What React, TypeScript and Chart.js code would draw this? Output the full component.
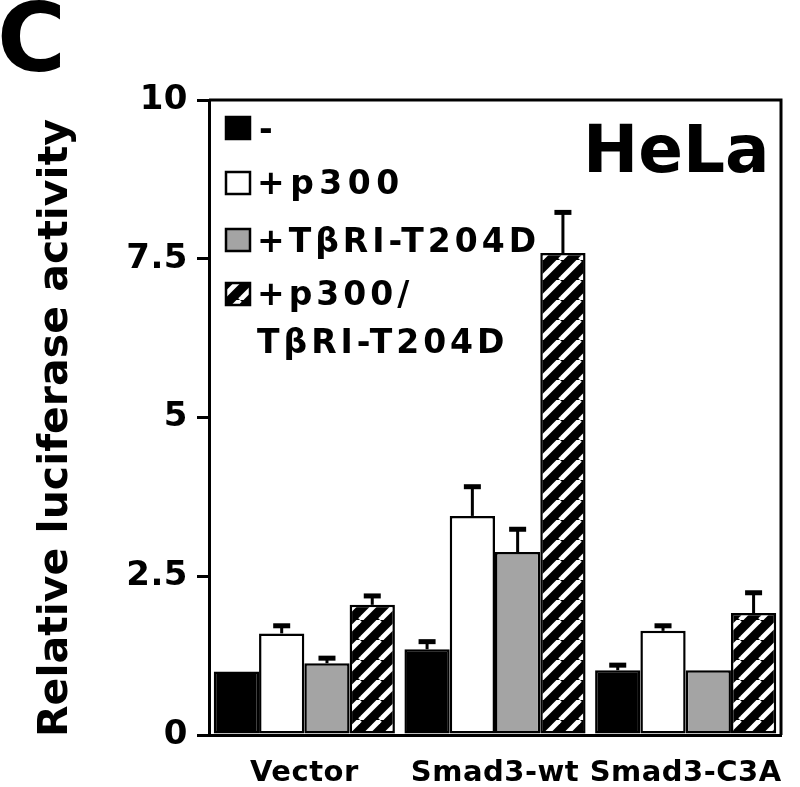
import React, { useEffect, useRef } from "react";
import { Chart, registerables } from "chart.js";
Chart.register(...registerables);

const categories = ["Vector", "Smad3-wt", "Smad3-C3A"];
const seriesLabels = ["-", "+p300", "+TβRI-T204D", "+p300/", "TβRI-T204D"];
const controlValues = [1.0, 1.35, 1.02];
const controlErrors = [0, 0.12, 0.08];
const p300Values = [1.6, 3.45, 1.64];
const p300Errors = [0.12, 0.46, 0.08];
const tbriValues = [1.13, 2.88, 1.02];
const tbriErrors = [0.08, 0.36, 0];
const comboValues = [2.05, 7.59, 1.92];
const comboErrors = [0.14, 0.64, 0.32];
const yTickValues = [0, 2.5, 5, 7.5, 10];
const yAxisTitle = "Relative luciferase activity";
const cellLine = "HeLa";
const panelLetter = "C";

const FAMILY = "'DejaVu Sans', 'Liberation Sans', Arial, sans-serif";
const GRAY = "#a4a4a4";

function makeHatch(): CanvasPattern | string {
  const c = document.createElement("canvas");
  c.width = 20;
  c.height = 20;
  const g = c.getContext("2d");
  if (!g) return "#000";
  g.fillStyle = "#000";
  g.fillRect(0, 0, 20, 20);
  g.strokeStyle = "#fff";
  g.lineWidth = 5;
  for (const o of [-20, 0, 20]) {
    g.beginPath();
    g.moveTo(o, 20);
    g.lineTo(o + 20, 0);
    g.stroke();
  }
  return g.createPattern(c, "repeat") || "#000";
}

function spacedText(ctx: any, text: string, x: number, y: number, font: string, spacing: number) {
  ctx.save();
  ctx.font = font;
  ctx.letterSpacing = spacing + "px";
  ctx.fillStyle = "#000";
  ctx.textAlign = "left";
  ctx.textBaseline = "alphabetic";
  ctx.fillText(text, x, y);
  ctx.restore();
}

export default function App() {
  const ref = useRef<HTMLCanvasElement>(null);
  useEffect(() => {
    document.body.style.margin = "0";
    const hatch = makeHatch();
    const valueSets = [controlValues, p300Values, tbriValues, comboValues];
    const errorSets = [controlErrors, p300Errors, tbriErrors, comboErrors];
    const fills: any[] = ["#000", "#fff", GRAY, hatch];

    const spacingPlugin = {
      id: "spacing",
      beforeUpdate(chart: any) {
        chart.ctx.letterSpacing = "0.5px";
      },
      beforeDraw(chart: any) {
        chart.ctx.letterSpacing = "0.5px";
      },
    };

    const errorPlugin = {
      id: "errbars",
      afterDatasetsDraw(chart: any) {
        const ctx = chart.ctx;
        const y = chart.scales.y;
        ctx.save();
        ctx.fillStyle = "#000";
        errorSets.forEach((errs, di) => {
          const meta = chart.getDatasetMeta(di);
          meta.data.forEach((bar: any, i: number) => {
            const e = errs[i];
            if (!e) return;
            const v = valueSets[di][i];
            const yTop = y.getPixelForValue(v + e);
            const yBar = y.getPixelForValue(v);
            ctx.fillRect(bar.x - 1.5, yTop, 3, yBar - yTop);
            ctx.fillRect(bar.x - 8.5, yTop - 2.5, 17, 5);
          });
        });
        ctx.restore();
      },
    };

    const decorPlugin = {
      id: "decor",
      afterDraw(chart: any) {
        const ctx = chart.ctx;
        const a = chart.chartArea;
        ctx.save();
        ctx.letterSpacing = "0px";
        // frame top & right
        ctx.strokeStyle = "#000";
        ctx.lineWidth = 3;
        ctx.beginPath();
        ctx.moveTo(a.left, a.top);
        ctx.lineTo(a.right, a.top);
        ctx.lineTo(a.right, a.bottom);
        ctx.stroke();

        // y axis title
        ctx.save();
        ctx.translate(67, 428);
        ctx.rotate(-Math.PI / 2);
        ctx.font = `bold 41px ${FAMILY}`;
        ctx.fillStyle = "#000";
        ctx.textAlign = "center";
        ctx.textBaseline = "alphabetic";
        ctx.fillText(yAxisTitle, 0, 0);
        ctx.restore();

        // panel letter
        spacedText(ctx, panelLetter, -3, 71, `bold 94px ${FAMILY}`, 0);
        // cell line
        spacedText(ctx, cellLine, 583, 172, `bold 66px ${FAMILY}`, 0);

        // legend
        const lx = a.left + 17;
        const tops = [17, 72, 129, 183];
        tops.forEach((t, i) => {
          ctx.fillStyle = fills[i];
          ctx.fillRect(lx, a.top + t, 24, 22);
          ctx.lineWidth = 2.5;
          ctx.strokeStyle = "#000";
          ctx.strokeRect(lx, a.top + t, 24, 22);
        });
        const lf = `bold 33px ${FAMILY}`;
        const tx = a.left + 48;
        spacedText(ctx, seriesLabels[0], tx + 2, a.top + 40, lf, 0);
        spacedText(ctx, seriesLabels[1], tx, a.top + 94, lf, 5.5);
        spacedText(ctx, seriesLabels[2], tx, a.top + 152, lf, 4);
        spacedText(ctx, seriesLabels[3], tx, a.top + 205, lf, 4);
        spacedText(ctx, seriesLabels[4], tx, a.top + 253, lf, 4);
        ctx.restore();
      },
    };

    const chart = new Chart(ref.current as HTMLCanvasElement, {
      type: "bar",
      data: {
        labels: categories,
        datasets: valueSets.map((vals, i) => ({
          label: seriesLabels[i],
          data: vals,
          backgroundColor: fills[i],
          borderColor: "#000",
          borderWidth: 2.5,
          borderSkipped: false,
          categoryPercentage: 0.95,
          barPercentage: 1.0,
        })),
      },
      options: {
        responsive: false,
        animation: false,
        events: [],
        layout: { padding: { top: 100, right: 19, bottom: 0, left: 2 } },
        plugins: {
          legend: { display: false },
          tooltip: { enabled: false },
          title: { display: false },
        },
        scales: {
          x: {
            offset: true,
            grid: { display: false, drawTicks: false },
            border: { display: true, width: 3, color: "#000" },
            ticks: {
              color: "#000",
              font: { family: FAMILY, size: 29, weight: "bold" },
              padding: 21,
              maxRotation: 0,
              minRotation: 0,
              autoSkip: false,
            },
            afterFit: (s: any) => {
              s.height = 52;
              s.paddingLeft = 0;
              s.paddingRight = 0;
            },
          },
          y: {
            min: 0,
            max: 10,
            afterBuildTicks: (s: any) => {
              s.ticks = yTickValues.map((v) => ({ value: v }));
            },
            grid: {
              drawOnChartArea: false,
              drawTicks: true,
              tickLength: 12,
              lineWidth: 3,
              color: "#000",
            },
            border: { display: true, width: 3, color: "#000" },
            ticks: {
              color: "#000",
              font: { family: FAMILY, size: 34, weight: "bold" },
              padding: 9,
            },
            afterFit: (s: any) => {
              s.width = 207;
              s.paddingTop = 0;
              s.paddingBottom = 0;
            },
          },
        },
      } as any,
      plugins: [spacingPlugin, errorPlugin, decorPlugin],
    });
    return () => chart.destroy();
  }, []);
  return (
    <div style={{ width: 800, height: 787 }}>
      <canvas ref={ref} width={800} height={787} style={{ display: "block" }} />
    </div>
  );
}
